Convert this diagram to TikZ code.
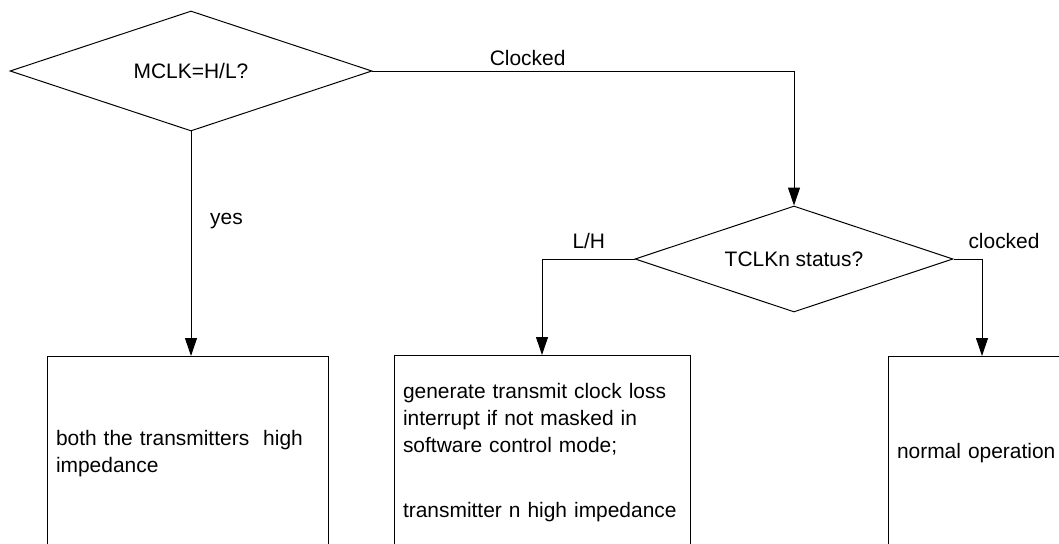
\documentclass[tikz,border=0pt]{standalone}
\usepackage{fontspec}
\setmainfont{Liberation Sans}
\usetikzlibrary{shapes.geometric,arrows.meta,positioning}

\begin{document}
\begin{tikzpicture}[
    font=\fontsize{14.9}{19.2}\selectfont,
    line width=0.7pt,
    decision/.style={draw, diamond, aspect=3, inner sep=0pt},
    outcome/.style={draw, rectangle, anchor=north, align=left, inner sep=0.225cm, minimum height=4.85cm},
    flow/.style={-{Triangle[length=0.45cm,width=0.3cm]}}
]
    \useasboundingbox (0,0) rectangle (26.475,-13.6);

    % the two tests
    \node[decision, minimum width=9.05cm, minimum height=3cm] (mclk) at (4.775,-1.775) {MCLK=H/L?};
    \node[decision, minimum width=7.95cm, minimum height=2.65cm] (tclk) at (19.85,-6.475) {TCLKn status?};

    % results (they run off the page at the bottom)
    \node[outcome, text width=6.575cm] (bothhiz) at (4.6875,-8.9) {both the transmitters\ \ high\\impedance};
    \node[outcome, text width=6.95cm] (lossint) at (13.55,-8.875) {generate transmit clock loss\\interrupt if not masked in\\software control mode;\\[0.95cm]transmitter n high impedance};
    \node[outcome, text width=4.25cm] (normop) at (24.55,-8.9) {normal operation};

    \draw[flow] (mclk.east) -| node[pos=0.184, above] (lclocked) {Clocked} (tclk.north);
    \draw[flow] (mclk.south) -- node[pos=0.4, right=0.35cm] (lyes) {yes} (mclk.south |- bothhiz.north);
    \draw[flow] (tclk.west) -| node[pos=0.247, above, yshift=0.125cm] (llh) {L/H} (lossint.north);
    \draw[flow] (tclk.east) -| node[pos=0.5, above, xshift=0.55cm, yshift=0.125cm] (lclkd) {clocked} (normop.north);
\end{tikzpicture}
\end{document}
